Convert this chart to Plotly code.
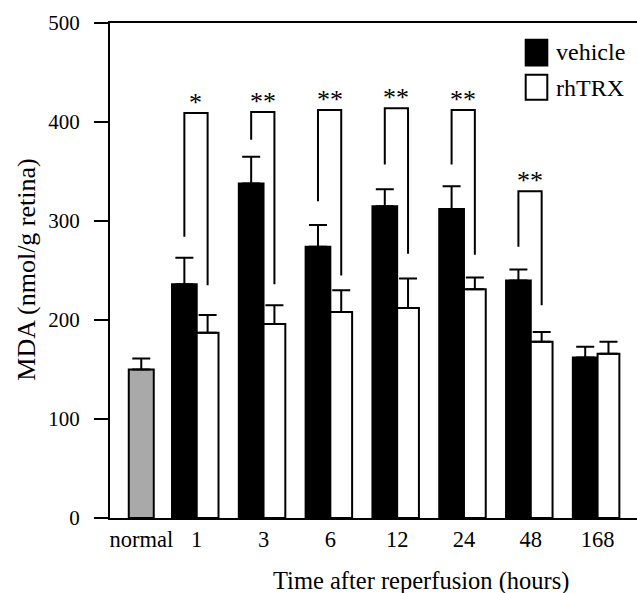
import plotly.graph_objects as go

# ---- data ----
categories = ["1", "3", "6", "12", "24", "48", "168"]
normal_label = "normal"
normal_value = 150
normal_err = 11
vehicle = [236, 338, 274, 315, 312, 240, 162]
vehicle_err = [27, 27, 22, 17, 23, 11, 11]
rhtrx = [187, 196, 208, 212, 231, 178, 166]
rhtrx_err = [18, 19, 22, 30, 12, 10, 12]
sig_labels = ["*", "**", "**", "**", "**", "**"]
bracket_top = [409, 410, 412, 414, 412, 330]
bracket_left_bottom = [284, 382, 320, 357, 357, 274]
bracket_right_bottom = [235, 236, 245, 267, 266, 215]

# ---- layout constants ----
FONT = "Liberation Serif"
pos = [i + 1 for i in range(len(categories))]
normal_pos = 0.17
VW = 0.37   # vehicle bar width (axis units)
RW = 0.326  # rhTRX bar width

fig = go.Figure()

fig.add_trace(go.Bar(
    x=[normal_pos], y=[normal_value], width=[0.374],
    marker=dict(color="#a9a9a9", line=dict(color="black", width=2)),
    error_y=dict(type="data", symmetric=False, array=[normal_err], arrayminus=[0],
                 color="black", thickness=2, width=9),
    showlegend=False,
))
fig.add_trace(go.Bar(
    x=pos, y=vehicle, width=VW, offset=-VW, name="vehicle",
    marker=dict(color="black", line=dict(color="black", width=2)),
    error_y=dict(type="data", symmetric=False, array=vehicle_err, arrayminus=[0] * len(vehicle),
                 color="black", thickness=2, width=9),
    showlegend=False,
))
fig.add_trace(go.Bar(
    x=pos, y=rhtrx, width=RW, offset=0, name="rhTRX",
    marker=dict(color="white", line=dict(color="black", width=2)),
    error_y=dict(type="data", symmetric=False, array=rhtrx_err, arrayminus=[0] * len(rhtrx),
                 color="black", thickness=2, width=9),
    showlegend=False,
))

# significance brackets and stars
bx, by = [], []
star_annotations = []
for i, lab in enumerate(sig_labels):
    xl = pos[i] - VW / 2
    xr = pos[i] + RW / 2
    bx += [xl, xl, xr, xr, None]
    by += [bracket_left_bottom[i], bracket_top[i], bracket_top[i], bracket_right_bottom[i], None]
    star_annotations.append(dict(
        text=lab, x=(xl + xr) / 2, y=bracket_top[i], xref="x", yref="y",
        xanchor="center", yanchor="bottom", yshift=-6, showarrow=False,
        font=dict(family=FONT, size=26, color="black")))
fig.add_trace(go.Scatter(x=bx, y=by, mode="lines", line=dict(color="black", width=2),
                         showlegend=False, hoverinfo="skip"))

# legend drawn manually
def px_x(p):
    return (p - 110) / 527
def px_y(p):
    return (518.3 - p) / 495

shapes = [
    dict(type="rect", xref="paper", yref="paper", x0=px_x(525.7), x1=px_x(547.3),
         y0=px_y(65.7), y1=px_y(40), fillcolor="black", line=dict(color="black", width=2)),
    dict(type="rect", xref="paper", yref="paper", x0=px_x(525.7), x1=px_x(547.3),
         y0=px_y(100), y1=px_y(75), fillcolor="white", line=dict(color="black", width=2)),
]
annotations = star_annotations + [
    dict(text="vehicle", xref="paper", yref="paper", x=px_x(554), y=px_y(52),
         xanchor="left", yanchor="middle", showarrow=False,
         font=dict(family=FONT, size=24, color="black")),
    dict(text="rhTRX", xref="paper", yref="paper", x=px_x(554), y=px_y(88),
         xanchor="left", yanchor="middle", showarrow=False,
         font=dict(family=FONT, size=24, color="black")),
    dict(text="Time after reperfusion (hours)", xref="paper", yref="paper",
         x=px_x(421), y=px_y(581), xanchor="center", yanchor="middle", showarrow=False,
         font=dict(family=FONT, size=24.5, color="black")),
    dict(text="MDA (nmol/g retina)", xref="paper", yref="paper",
         x=px_x(27), y=px_y(270), xanchor="center", yanchor="middle", showarrow=False,
         textangle=-90, font=dict(family=FONT, size=26, color="black")),
]

fig.update_layout(
    width=637, height=593,
    margin=dict(l=110, r=0, t=23, b=75),
    paper_bgcolor="white", plot_bgcolor="white",
    barmode="overlay",
    shapes=shapes, annotations=annotations,
    font=dict(family=FONT, color="black"),
    xaxis=dict(range=[-0.298, 7.59], tickvals=[normal_pos] + pos,
               ticktext=[normal_label] + categories,
               showline=True, linecolor="black", linewidth=2, mirror=True,
               ticks="", showgrid=False, zeroline=False,
               tickfont=dict(family=FONT, size=22.5, color="black")),
    yaxis=dict(range=[0, 500], tickvals=[0, 100, 200, 300, 400, 500],
               showline=True, linecolor="black", linewidth=2,
               ticks="outside", ticklen=14, tickwidth=2, tickcolor="black",
               ticklabelstandoff=10,
               showgrid=False, zeroline=False,
               tickfont=dict(family=FONT, size=21, color="black")),
)

fig.write_html("out.html")
